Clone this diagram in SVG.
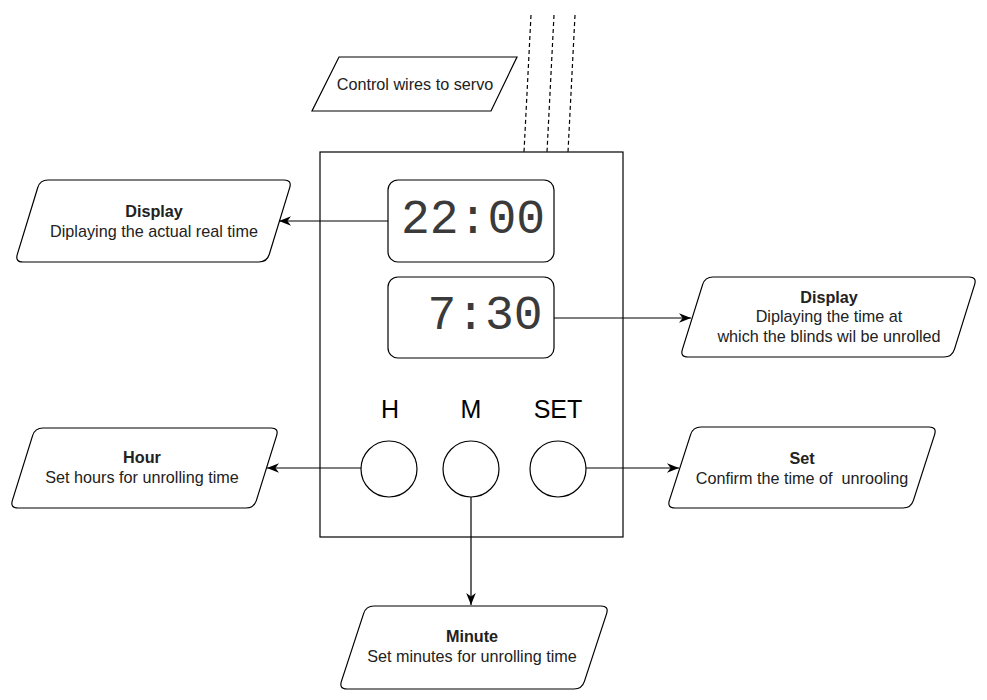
<svg xmlns="http://www.w3.org/2000/svg" width="987" height="700" viewBox="0 0 987 700">
<style>
.shape{fill:#fff;stroke:#000;stroke-width:1.2}
.lbl{font-family:"Liberation Sans",Arial,sans-serif;font-size:16.2px;fill:#222;text-anchor:middle}
.b{font-weight:bold}
.btn{font-family:"Liberation Sans",Arial,sans-serif;font-size:25px;fill:#000;text-anchor:middle}
.mono{font-family:"Liberation Mono","Courier New",monospace;font-size:48px;fill:#3a3a3a;text-anchor:middle}
.conn{fill:none;stroke:#000;stroke-width:1.2}
.dash{fill:none;stroke:#000;stroke-width:1.2;stroke-dasharray:4 3}
</style>
<defs>
<marker id="arr" viewBox="0 0 10 10" refX="10" refY="5" markerWidth="12" markerHeight="12" markerUnits="userSpaceOnUse" orient="auto">
<path d="M0,1 L10,5 L0,9 L3,5 Z" fill="#000"/>
</marker>
</defs>
<rect width="987" height="700" fill="#fff"/>

<g id="device">
<rect class="shape" x="320" y="152" width="303" height="385"/>
</g>

<g id="wires-label">
<path class="shape" d="M339,57 L517,57 L491,111 L312,111 Z"/>
<text class="lbl" x="415" y="89.5">Control wires to servo</text>
</g>

<g id="display-real">
<rect class="shape" x="388" y="180" width="166" height="82" rx="10"/>
<text class="mono" x="473" y="233">22:00</text>
</g>

<g id="display-alarm">
<rect class="shape" x="388" y="277" width="166" height="81" rx="10"/>
<text class="mono" x="485" y="329">7:30</text>
</g>

<g id="btn-h">
<text class="btn" x="390" y="418">H</text>
<circle class="shape" cx="389" cy="469" r="28"/>
</g>
<g id="btn-m">
<text class="btn" x="471" y="418">M</text>
<circle class="shape" cx="471" cy="469" r="28"/>
</g>
<g id="btn-set">
<text class="btn" x="558" y="418">SET</text>
<circle class="shape" cx="558" cy="469" r="28"/>
</g>

<g id="label-display-real">
<path class="shape" d="M48,180 L284,180 Q292,180 289.7,187.7 L269.3,254.3 Q267,262 259,262 L23,262 Q15,262 17.3,254.3 L37.7,187.7 Q40,180 48,180 Z"/>
<text class="lbl" x="154" y="217"><tspan class="b" x="154">Display</tspan><tspan x="154" dy="19.5">Diplaying the actual real time</tspan></text>
</g>

<g id="label-display-alarm">
<path class="shape" d="M713,277 L969,277 Q977,277 974.6,284.6 L954.4,349.4 Q952,357 944,357 L688,357 Q680,357 682.4,349.4 L702.6,284.6 Q705,277 713,277 Z"/>
<text class="lbl" x="829" y="303"><tspan class="b" x="829">Display</tspan><tspan x="829" dy="19.3">Diplaying the time at</tspan><tspan x="829" dy="19.3">which the blinds wil be unrolled</tspan></text>
</g>

<g id="label-hour">
<path class="shape" d="M43,428 L271,428 Q279,428 276.6,435.6 L256.4,500.4 Q254,508 246,508 L18,508 Q10,508 12.4,500.4 L32.6,435.6 Q35,428 43,428 Z"/>
<text class="lbl" x="142" y="463"><tspan class="b" x="142">Hour</tspan><tspan x="142" dy="20">Set hours for unrolling time</tspan></text>
</g>

<g id="label-set">
<path class="shape" d="M701,427 L929,427 Q937,427 934.6,434.6 L913.4,500.4 Q911,508 903,508 L675,508 Q667,508 669.4,500.4 L690.6,434.6 Q693,427 701,427 Z"/>
<text class="lbl" x="802" y="464" xml:space="preserve"><tspan class="b" x="802">Set</tspan><tspan x="802" dy="20">Confirm the time of  unrooling</tspan></text>
</g>

<g id="label-minute">
<path class="shape" d="M374,606 L601,606 Q609,606 606.6,613.6 L584.4,681.4 Q582,689 574,689 L347,689 Q339,689 341.4,681.4 L363.6,613.6 Q366,606 374,606 Z"/>
<text class="lbl" x="472" y="642"><tspan class="b" x="472">Minute</tspan><tspan x="472" dy="20">Set minutes for unrolling time</tspan></text>
</g>

<g id="connectors">
<line class="dash" x1="531" y1="15" x2="524" y2="152"/>
<line class="dash" x1="554" y1="15" x2="547" y2="152"/>
<line class="dash" x1="575" y1="15" x2="568" y2="152"/>
<line class="conn" x1="388" y1="221" x2="279" y2="221" marker-end="url(#arr)"/>
<line class="conn" x1="554" y1="318" x2="691" y2="318" marker-end="url(#arr)"/>
<line class="conn" x1="361" y1="468" x2="267" y2="468" marker-end="url(#arr)"/>
<line class="conn" x1="586" y1="468" x2="679" y2="468" marker-end="url(#arr)"/>
<line class="conn" x1="471" y1="497" x2="471" y2="605" marker-end="url(#arr)"/>
</g>
</svg>
